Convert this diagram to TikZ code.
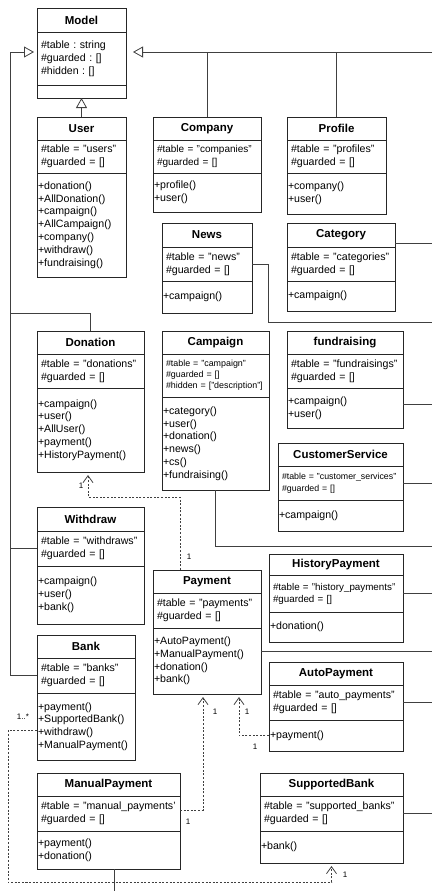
\documentclass[tikz,border=0pt]{standalone}
\usepackage{fontspec}
\setmainfont{Liberation Sans}
\usepackage{tikz}
\usetikzlibrary{shapes,arrows.meta,positioning,calc}
\frenchspacing

\begin{document}
\begin{tikzpicture}[
        x=1pt, y=-1pt,
        ttl/.style={draw=black!85, line width=0.8pt, rectangle, anchor=north west, inner sep=0pt, outer sep=0pt, font=\bfseries\fontsize{11.5}{13}\selectfont},
        att/.style={draw=black!85, line width=0.8pt, rectangle, inner xsep=4pt, inner ysep=0pt, outer sep=0pt, align=left, font=\fontsize{10.6}{12.8}\selectfont},
        mth/.style={draw=black!85, line width=0.8pt, rectangle, inner xsep=1pt, inner ysep=0pt, outer sep=0pt, align=left, font=\fontsize{10.6}{12.8}\selectfont},
        conn/.style={draw=black!75, line width=0.8pt},
        inh/.style={conn, -{Triangle[open, length=10pt, width=11pt]}},
        dep/.style={conn, dash pattern=on 2pt off 1.6pt, -{Straight Barb[length=7pt, width=10pt]}, shorten >=3pt},
        lbl/.style={inner sep=0pt, font=\fontsize{8}{9}\selectfont}
    ]
    \useasboundingbox (0,0) rectangle (432,891);

    % classes
    \node[ttl, minimum width=89pt, minimum height=24pt] (model) at (37,8) {Model};
    \node[att, text width=81pt, minimum height=53pt, below=0pt of model] (model-a) {\#table : string\\\#guarded : []\\\#hidden : []};
    \node[mth, text width=87pt, minimum height=13pt, below=0pt of model-a] (model-m) {};

    \node[ttl, minimum width=89pt, minimum height=23pt] (user) at (37,117) {User};
    \node[att, text width=81pt, minimum height=33pt, below=0pt of user] (user-a) {\#table = "users"\\\#guarded = []};
    \node[mth, text width=87pt, minimum height=104pt, below=0pt of user-a] (user-m) {+donation()\\+AllDonation()\\+campaign()\\+AllCampaign()\\+company()\\+withdraw()\\+fundraising()};

    \node[ttl, minimum width=108pt, minimum height=23pt] (company) at (153,117) {Company};
    \node[att, text width=100pt, minimum height=33pt, font=\fontsize{10}{12.5}\selectfont, below=0pt of company] (company-a) {\#table = "companies"\\\#guarded = []};
    \node[mth, text width=106pt, minimum height=39pt, below=0pt of company-a] (company-m) {+profile()\\+user()};

    \node[ttl, minimum width=99pt, minimum height=23pt] (profile) at (287,117) {Profile};
    \node[att, text width=91pt, minimum height=33pt, below=0pt of profile] (profile-a) {\#table = "profiles"\\\#guarded = []};
    \node[mth, text width=97pt, minimum height=41pt, below=0pt of profile-a] (profile-m) {+company()\\+user()};

    \node[ttl, minimum width=90pt, minimum height=24pt] (news) at (162,223) {News};
    \node[att, text width=82pt, minimum height=34pt, below=0pt of news] (news-a) {\#table = "news"\\\#guarded = []};
    \node[mth, text width=88pt, minimum height=32pt, below=0pt of news-a] (news-m) {+campaign()};

    \node[ttl, minimum width=108pt, minimum height=24pt] (category) at (287,223) {Category};
    \node[att, text width=100pt, minimum height=34pt, below=0pt of category] (category-a) {\#table = "categories"\\\#guarded = []};
    \node[mth, text width=106pt, minimum height=30pt, below=0pt of category-a] (category-m) {+campaign()};

    \node[ttl, minimum width=107pt, minimum height=23pt] (donation) at (37,331) {Donation};
    \node[att, text width=99pt, minimum height=34pt, below=0pt of donation] (donation-a) {\#table = "donations"\\\#guarded = []};
    \node[mth, text width=105pt, minimum height=84pt, below=0pt of donation-a] (donation-m) {+campaign()\\+user()\\+AllUser()\\+payment()\\+HistoryPayment()};

    \node[ttl, minimum width=107pt, minimum height=23pt] (campaign) at (162,331) {Campaign};
    \node[att, text width=99pt, minimum height=43pt, font=\fontsize{8.9}{11}\selectfont, below=0pt of campaign] (campaign-a) {\#table = "campaign"\\\#guarded = []\\\#hidden = ["description"]};
    \node[mth, text width=105pt, minimum height=93pt, below=0pt of campaign-a] (campaign-m) {+category()\\+user()\\+donation()\\+news()\\+cs()\\+fundraising()};

    \node[ttl, minimum width=116pt, minimum height=23pt] (fund) at (287,331) {fundraising};
    \node[att, text width=108pt, minimum height=34pt, below=0pt of fund] (fund-a) {\#table = "fundraisings"\\\#guarded = []};
    \node[mth, text width=114pt, minimum height=40pt, below=0pt of fund-a] (fund-m) {+campaign()\\+user()};

    \node[ttl, minimum width=125pt, minimum height=23pt] (cs) at (278,443) {CustomerService};
    \node[att, text width=117pt, minimum height=34pt, font=\fontsize{8.8}{12}\selectfont, below=0pt of cs] (cs-a) {\#table = "customer\_services"\\\#guarded = []};
    \node[mth, text width=123pt, minimum height=31pt, below=0pt of cs-a] (cs-m) {+campaign()};

    \node[ttl, minimum width=107pt, minimum height=24pt] (withdraw) at (37,507) {Withdraw};
    \node[att, text width=99pt, minimum height=35pt, below=0pt of withdraw] (withdraw-a) {\#table = "withdraws"\\\#guarded = []};
    \node[mth, text width=105pt, minimum height=58pt, below=0pt of withdraw-a] (withdraw-m) {+campaign()\\+user()\\+bank()};

    \node[ttl, minimum width=108pt, minimum height=23pt] (payment) at (153,570) {Payment};
    \node[att, text width=100pt, minimum height=35pt, below=0pt of payment] (payment-a) {\#table = "payments"\\\#guarded = []};
    \node[mth, text width=106pt, minimum height=66pt, below=0pt of payment-a] (payment-m) {+AutoPayment()\\+ManualPayment()\\+donation()\\+bank()};

    \node[ttl, minimum width=134pt, minimum height=21pt] (hp) at (269,554) {HistoryPayment};
    \node[att, text width=126pt, minimum height=37pt, font=\fontsize{9.8}{12}\selectfont, below=0pt of hp] (hp-a) {\#table = "history\_payments"\\\#guarded = []};
    \node[mth, text width=132pt, minimum height=30pt, below=0pt of hp-a] (hp-m) {+donation()};

    \node[ttl, minimum width=98pt, minimum height=23pt] (bank) at (37,635) {Bank};
    \node[att, text width=90pt, minimum height=35pt, below=0pt of bank] (bank-a) {\#table = "banks"\\\#guarded = []};
    \node[mth, text width=96pt, minimum height=67pt, below=0pt of bank-a] (bank-m) {+payment()\\+SupportedBank()\\+withdraw()\\+ManualPayment()};

    \node[ttl, minimum width=134pt, minimum height=23pt] (ap) at (269,662) {AutoPayment};
    \node[att, text width=126pt, minimum height=35pt, below=0pt of ap] (ap-a) {\#table = "auto\_payments"\\\#guarded = []};
    \node[mth, text width=132pt, minimum height=31pt, below=0pt of ap-a] (ap-m) {+payment()};

    \node[ttl, minimum width=143pt, minimum height=23pt] (mp) at (37,773) {ManualPayment};
    \node[att, text width=135pt, minimum height=35pt, below=0pt of mp] (mp-a) {\#table = "manual\_payments'\\\#guarded = []};
    \node[mth, text width=141pt, minimum height=38pt, below=0pt of mp-a] (mp-m) {+payment()\\+donation()};

    \node[ttl, minimum width=143pt, minimum height=23pt] (sb) at (260,773) {SupportedBank};
    \node[att, text width=135pt, minimum height=35pt, below=0pt of sb] (sb-a) {\#table = "supported\_banks"\\\#guarded = []};
    \node[mth, text width=141pt, minimum height=32pt, below=0pt of sb-a] (sb-m) {+bank()};

    % generalisation
    \coordinate (edge) at (432,0);
    \coordinate (busR) at (432,52);
    \coordinate (busL) at (10,52);
    \draw[inh] (user.north) -- (model-m.south);
    \draw[inh, shorten >=7pt] (busR) -- (busR -| model-a.east);
    \draw[conn] (company.north) -- (company.north |- busR);
    \draw[conn] (profile.north) -- (profile.north |- busR);
    \draw[inh, shorten >=3pt] (bank-a.west) -| (busL) -- (busL -| model-a.west);
    \draw[conn] (donation.north) |- (busL |- 0,313);
    \draw[conn] (withdraw-a.west) -- (withdraw-a.west -| busL);

    % lines leaving the picture
    \coordinate (mpOut) at (114,891);
    \draw[conn] (category.east |- 0,243) -- (edge |- 0,243);
    \draw[conn] (news-a.east) -- ++(16,0) |- (edge |- 0,322);
    \draw[conn] (fund-m.east |- 0,404) -- (edge |- 0,404);
    \draw[conn] (cs-a.east) -- (cs-a.east -| edge);
    \draw[conn] (campaign-m.south) |- (edge |- 0,546);
    \draw[conn] (hp-a.east) -- (hp-a.east -| edge);
    \draw[conn] (payment-m.east |- 0,651) -- (edge |- 0,651);
    \draw[conn] (ap-a.east) -- (ap-a.east -| edge);
    \draw[conn] (sb-a.east) -- (sb-a.east -| edge);
    \draw[conn] (mpOut |- mp-m.south) -- (mpOut);

    % dependencies
    \coordinate (dDon) at (88,497);
    \coordinate (dMP) at (203,810);
    \coordinate (dB) at (8,882);
    \draw[dep] ([xshift=-27pt]payment.north) |- (dDon) -- (dDon |- donation-m.south);
    \draw[dep] (dMP -| mp-a.east) -| ([xshift=-4pt]payment-m.south);
    \draw[dep] (ap-m.west) -| ([xshift=32pt]payment-m.south);
    \draw[dep] ([yshift=-4pt]bank-m.west) -| (dB) -| (sb-m.south);

    \node[lbl] (m1) at (81,486) {1};
    \node[lbl] (m2) at (189,557) {1};
    \node[lbl] (m3) at (215,712) {1};
    \node[lbl] (m4) at (188,822) {1};
    \node[lbl] (m5) at (247,712) {1};
    \node[lbl] (m6) at (255,747) {1};
    \node[lbl] (m7) at (23,717) {1..*};
    \node[lbl] (m8) at (345,875) {1};
\end{tikzpicture}
\end{document}
